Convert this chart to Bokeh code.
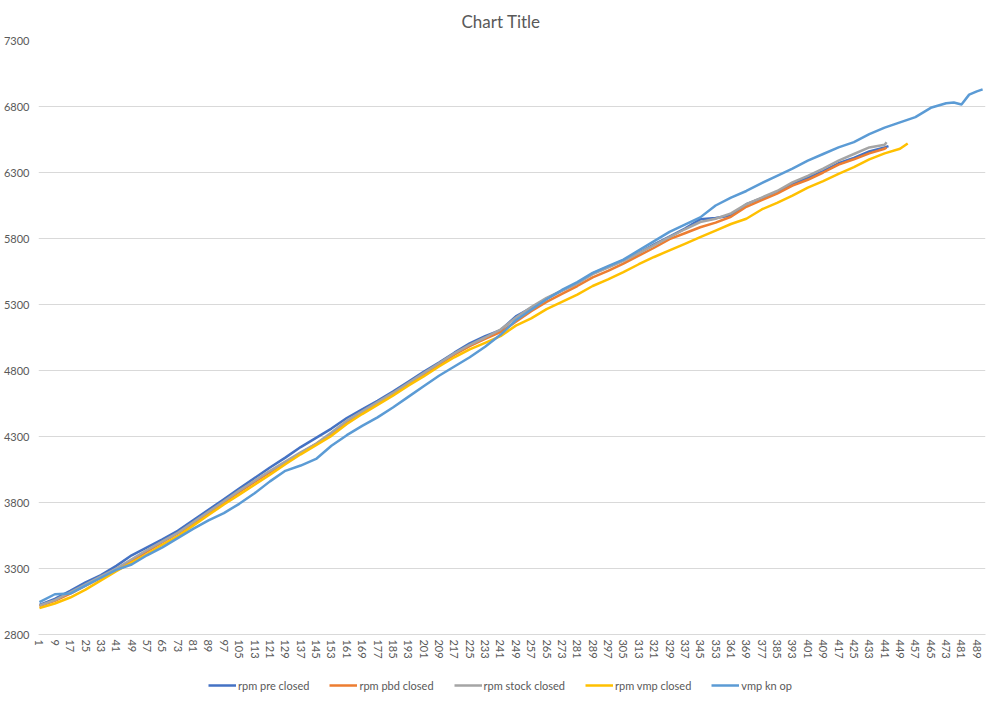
from bokeh.plotting import figure
from bokeh.models import Legend, LegendItem, FixedTicker, Range1d
from bokeh.layouts import column
from bokeh.embed import file_html
from bokeh.resources import INLINE

x_common = list(range(1, 442, 8))  # 1, 9, ..., 441

pre_closed_x = x_common + [443]
pre_closed = [3025, 3070, 3130, 3195, 3250, 3320, 3400, 3460, 3520, 3585,
              3665, 3745, 3825, 3905, 3985, 4065, 4140, 4220, 4290, 4360,
              4440, 4505, 4570, 4640, 4715, 4790, 4860, 4935, 5005, 5060,
              5105, 5210, 5275, 5345, 5405, 5460, 5535, 5585, 5635, 5690,
              5755, 5815, 5875, 5945, 5955, 5975, 6060, 6105, 6150, 6210,
              6260, 6310, 6370, 6410, 6460, 6490, 6500]

pbd_closed_x = x_common + [442]
pbd_closed = [3015, 3055, 3110, 3170, 3230, 3290, 3360, 3430, 3500, 3565,
              3640, 3720, 3800, 3880, 3955, 4030, 4105, 4175, 4245, 4320,
              4410, 4485, 4555, 4625, 4700, 4770, 4845, 4920, 4985, 5040,
              5090, 5170, 5250, 5320, 5380, 5440, 5505, 5555, 5610, 5670,
              5730, 5795, 5840, 5885, 5920, 5965, 6040, 6090, 6140, 6200,
              6245, 6300, 6360, 6400, 6445, 6480, 6490]

stock_closed_x = x_common + [442]
stock_closed = [3020, 3060, 3120, 3180, 3240, 3300, 3370, 3440, 3505, 3570,
                3650, 3730, 3810, 3890, 3965, 4040, 4110, 4180, 4245, 4330,
                4420, 4490, 4560, 4630, 4705, 4780, 4855, 4930, 4995, 5050,
                5110, 5200, 5280, 5350, 5405, 5460, 5530, 5580, 5630, 5690,
                5750, 5810, 5870, 5925, 5950, 5990, 6060, 6110, 6160, 6225,
                6275, 6330, 6390, 6440, 6490, 6510, 6530]

vmp_closed_x = x_common + [449, 453]
vmp_closed = [3000, 3035, 3080, 3140, 3210, 3280, 3345, 3410, 3480, 3545,
              3625, 3705, 3785, 3860, 3935, 4010, 4090, 4165, 4235, 4305,
              4395, 4470, 4540, 4610, 4685, 4755, 4830, 4900, 4960, 5010,
              5060, 5140, 5195, 5265, 5320, 5375, 5440, 5490, 5545, 5605,
              5660, 5710, 5760, 5810, 5860, 5910, 5950, 6020, 6070, 6125,
              6185, 6235, 6290, 6340, 6400, 6445, 6480, 6520]

kn_op_x = x_common + [449, 457, 465, 473, 477, 481, 485, 489, 492]
kn_op = [3045, 3105, 3110, 3170, 3230, 3290, 3330, 3400, 3460, 3530,
         3600, 3665, 3720, 3790, 3870, 3960, 4040, 4080, 4130, 4230,
         4310, 4380, 4445, 4520, 4600, 4680, 4760, 4830, 4900, 4980,
         5070, 5180, 5260, 5340, 5410, 5470, 5540, 5590, 5640, 5710,
         5780, 5850, 5905, 5960, 6050, 6110, 6160, 6220, 6275, 6330,
         6390, 6440, 6490, 6530, 6590, 6640,
         6680, 6720, 6790, 6825, 6830, 6815, 6890, 6915, 6930]

series_names = ["rpm pre closed", "rpm pbd closed", "rpm stock closed",
                "rpm vmp closed", "vmp kn op"]
series_colors = ["#4472C4", "#ED7D31", "#A5A5A5", "#FFC000", "#5B9BD5"]

x_ticks = list(range(1, 490, 8))
y_ticks = [2800, 3300, 3800, 4300, 4800, 5300, 5800, 6300, 6800, 7300]

FONT = "Lato"
TXT = "#595959"
LW = 2.5

p = figure(width=992, height=663, output_backend="svg", toolbar_location=None,
           x_range=Range1d(0.5, 493.5), y_range=Range1d(2800, 7300),
           min_border_left=33, min_border_right=7, min_border_top=39,
           min_border_bottom=29, title="Chart Title")
p.background_fill_color = "white"
p.border_fill_color = "white"
p.outline_line_color = None

p.title.align = "left"
p.title.offset = 423
p.title.text_font = FONT
p.title.text_font_size = "17px"
p.title.text_font_style = "normal"
p.title.text_color = TXT
p.title.standoff = 17

p.yaxis.ticker = FixedTicker(ticks=y_ticks)
p.yaxis.axis_line_color = None
p.yaxis.major_tick_line_color = None
p.yaxis.minor_tick_line_color = None
p.yaxis.major_tick_out = 0
p.yaxis.major_label_standoff = 9
p.yaxis.major_label_text_font = FONT
p.yaxis.major_label_text_font_size = "11px"
p.yaxis.major_label_text_color = TXT

p.xaxis.ticker = FixedTicker(ticks=x_ticks)
p.xaxis.major_label_orientation = "vertical"
p.xaxis.axis_line_color = "#D9D9D9"
p.xaxis.major_tick_line_color = None
p.xaxis.minor_tick_line_color = None
p.xaxis.major_tick_out = 0
p.xaxis.major_label_standoff = 5
p.xaxis.major_label_text_font = FONT
p.xaxis.major_label_text_font_size = "11px"
p.xaxis.major_label_text_color = TXT

p.xgrid.visible = False
p.ygrid.ticker = FixedTicker(ticks=y_ticks)
p.ygrid.grid_line_color = "#D9D9D9"

xs = [pre_closed_x, pbd_closed_x, stock_closed_x, vmp_closed_x, kn_op_x]
ys = [pre_closed, pbd_closed, stock_closed, vmp_closed, kn_op]
for col, xx, yy in zip(series_colors, xs, ys):
    p.line(xx, yy, line_color=col, line_width=LW, line_join="round")

# ---- legend strip below the chart ----
pl = figure(width=992, height=30, output_backend="svg", toolbar_location=None,
            x_range=Range1d(0, 1), y_range=Range1d(0, 1),
            min_border_left=0, min_border_right=0, min_border_top=0,
            min_border_bottom=0)
pl.axis.visible = False
pl.grid.visible = False
pl.outline_line_color = None
pl.background_fill_color = "white"
pl.border_fill_color = "white"
items = []
for name, col in zip(series_names, series_colors):
    # proxy renderers kept outside the visible range; only their legend entries show
    r = pl.line(x=[5, 6], y=[5, 6], line_color=col, line_width=LW)
    items.append(LegendItem(label=name, renderers=[r]))
legend = Legend(items=items, orientation="horizontal", location=(170, 0),
                border_line_color=None, background_fill_alpha=0,
                label_text_font=FONT, label_text_font_size="11px",
                label_text_color=TXT, glyph_width=28, glyph_height=16,
                label_standoff=2, spacing=20, padding=0, margin=0)
pl.add_layout(legend)

layout = column(p, pl, spacing=0)
open("out.html", "w").write(file_html(layout, INLINE))
